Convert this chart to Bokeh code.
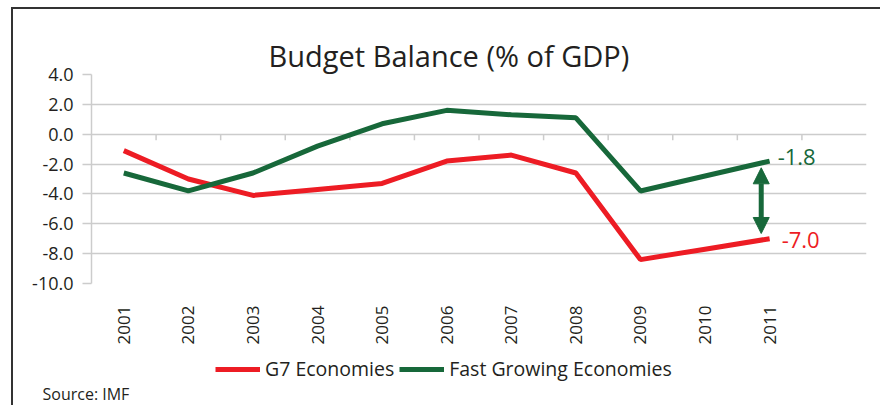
import math
from bokeh.plotting import figure
from bokeh.layouts import column
from bokeh.models import (ColumnDataSource, FixedTicker, Range1d, Label,
                          Legend, LegendItem, Arrow, NormalHead, NumeralTickFormatter)
from bokeh.core.properties import value
from bokeh.embed import file_html
from bokeh.resources import INLINE

years = [2001, 2002, 2003, 2004, 2005, 2006, 2007, 2008, 2009, 2010, 2011]
g7 = [-1.1, -3.0, -4.1, -3.7, -3.3, -1.8, -1.4, -2.6, -8.4, -7.7, -7.0]
fast = [-2.6, -3.8, -2.6, -0.8, 0.7, 1.6, 1.3, 1.1, -3.8, -2.8, -1.8]
y_ticks = [4, 2, 0, -2, -4, -6, -8, -10]
title_text = "Budget Balance (% of GDP)"
source_text = "Source: IMF"
series_names = ["G7 Economies", "Fast Growing Economies"]

RED = "#ED1C24"
GREEN = "#17683A"
GRID = "#cccccc"
TXT = "#231F20"
FONT = "Open Sans"

# ---------------- main chart ----------------
p = figure(width=880, height=353, output_backend="svg", toolbar_location=None,
           x_range=Range1d(years[0] - 0.5, years[-1] + 1.5),
           y_range=Range1d(y_ticks[-1], y_ticks[0]),
           min_border_left=91, min_border_right=14, min_border_top=74,
           min_border_bottom=70)
p.frame_align = False
p.outline_line_color = None
p.background_fill_color = "white"
p.border_fill_color = None

p.title.text = title_text
p.title.align = "left"
p.title.offset = 177
p.title.standoff = 0
p.title.text_font = FONT
p.title.text_font_size = "29px"
p.title.text_font_style = "normal"
p.title.text_color = TXT

p.yaxis.ticker = FixedTicker(ticks=y_ticks)
p.yaxis.formatter = NumeralTickFormatter(format="0.0")
p.yaxis.axis_line_color = GRID
p.yaxis.axis_line_width = 1.5
p.yaxis.major_tick_line_color = GRID
p.yaxis.major_tick_line_width = 1.5
p.yaxis.major_tick_out = 9
p.yaxis.major_tick_in = 0
p.yaxis.minor_tick_line_color = None
p.yaxis.major_label_standoff = 9
p.yaxis.major_label_text_font = FONT
p.yaxis.major_label_text_font_size = "18px"
p.yaxis.major_label_text_color = TXT
p.ygrid.grid_line_color = GRID
p.ygrid.grid_line_width = 1.5

p.xaxis.ticker = FixedTicker(ticks=years)
p.xaxis.major_label_overrides = {y: str(y) for y in years}
p.xaxis.axis_line_color = None
p.xaxis.major_tick_line_color = None
p.xaxis.minor_tick_line_color = None
p.xaxis.major_tick_out = 0
p.xaxis.major_tick_in = 0
p.xaxis.major_label_orientation = math.pi / 2
p.xaxis.major_label_standoff = 22
p.xaxis.major_label_text_font = FONT
p.xaxis.major_label_text_font_size = "17px"
p.xaxis.major_label_text_color = TXT
p.xgrid.grid_line_color = None

# category boundary ticks on the zero line
bounds = [y + 0.5 for y in years]
p.segment(x0=bounds, x1=bounds, y0=[0] * len(bounds), y1=[-0.4] * len(bounds),
          line_color=GRID, line_width=1.5)

src = ColumnDataSource(dict(x=years, g7=g7, fast=fast))
p.line("x", "g7", source=src, line_color=RED, line_width=5)
p.line("x", "fast", source=src, line_color=GREEN, line_width=5)

p.text(x=[years[-1]], y=[fast[-1]], text=[f"{fast[-1]:.1f}"], x_offset=8, y_offset=-4,
       text_font=value(FONT), text_font_size="22px", text_color=GREEN,
       text_baseline="middle", text_align="left")
p.text(x=[years[-1]], y=[g7[-1]], text=[f"{g7[-1]:.1f}"], x_offset=12, y_offset=1,
       text_font=value(FONT), text_font_size="22px", text_color=RED,
       text_baseline="middle", text_align="left")

ax = years[-1] - 0.13
p.add_layout(Arrow(x_start=ax, y_start=g7[-1] + 0.35, x_end=ax, y_end=fast[-1] - 0.45,
                   line_color=GREEN, line_width=5,
                   start=NormalHead(size=16, fill_color=GREEN, line_color=GREEN),
                   end=NormalHead(size=16, fill_color=GREEN, line_color=GREEN)))

# ---------------- legend + source strip ----------------
q = figure(width=880, height=52, output_backend="svg", toolbar_location=None,
           x_range=Range1d(0, 880), y_range=Range1d(0, 52),
           x_axis_location=None, y_axis_location=None,
           min_border_left=0, min_border_right=0, min_border_top=0, min_border_bottom=0)
q.frame_align = False
q.outline_line_color = None
q.background_fill_color = None
q.border_fill_color = None
q.xgrid.grid_line_color = None
q.ygrid.grid_line_color = None
# legend glyph sources: the same series, lying outside this strip's visible range
l1 = q.line(x=years, y=g7, line_color=RED, line_width=5)
l2 = q.line(x=years, y=fast, line_color=GREEN, line_width=5)
legend = Legend(items=[LegendItem(label=series_names[0], renderers=[l1]),
                       LegendItem(label=series_names[1], renderers=[l2])],
                orientation="horizontal", location=(215, 23),
                glyph_width=45, glyph_height=20, label_standoff=5, spacing=5,
                padding=0, margin=0, border_line_color=None,
                background_fill_alpha=0,
                label_text_font=FONT, label_text_font_size="19.5px",
                label_text_color=TXT)
q.add_layout(legend, "center")
q.add_layout(Label(x=42, y=12, x_units="screen", y_units="screen", text=source_text,
                   text_font=FONT, text_font_size="16px", text_color=TXT,
                   text_align="left", text_baseline="alphabetic"))

layout = column(p, q, spacing=0)
layout.styles = {
    "background": ("linear-gradient(#333333, #333333) 11px 7px / 2px 100% no-repeat, "
                   "linear-gradient(#333333, #333333) 11px 7px / 100% 2px no-repeat, white")
}

open("out.html", "w").write(file_html(layout, INLINE))
